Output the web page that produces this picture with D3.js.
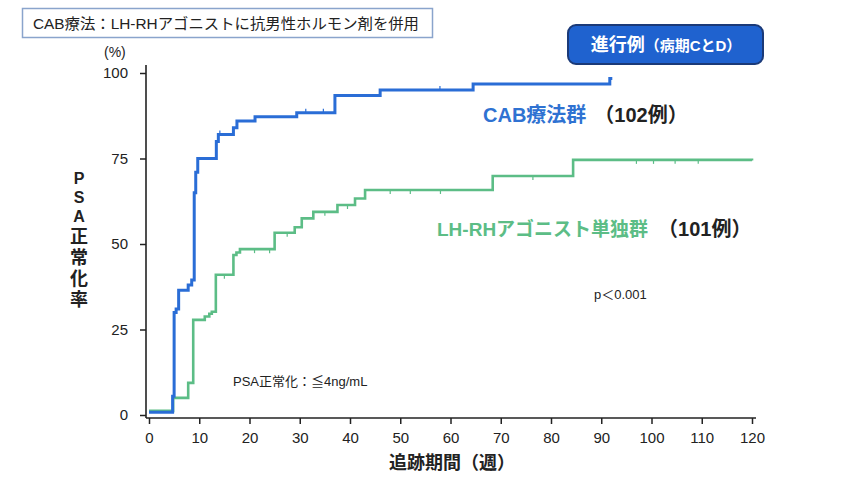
<!DOCTYPE html>
<html><head><meta charset="utf-8">
<script src="https://cdn.jsdelivr.net/npm/d3@7"></script>
<style>
html,body{margin:0;padding:0;background:#fff;}
svg{display:block;}
text{font-family:"Liberation Sans","Noto Sans CJK JP",sans-serif;}
</style></head>
<body>
<svg id="c" width="843" height="478"></svg>
<script>
// ---- data ----
const xTicks = [0,10,20,30,40,50,60,70,80,90,100,110,120];
const yTicks = [0,25,50,75,100];
const cabWeeks  = [0,4.7,5.0,5.4,5.9,7.8,8.5,9.0,9.3,9.7,13.4,13.8,16.8,17.5,21.1,29.4,37.0,46.0,64.5,91.7,92.2];
const cabPct    = [0.8,5.5,30,31,36.5,38,39.5,65,71,75,80,82,84,86,87.2,88.4,93.4,95,96.8,98.4,98.4];
const cabCensor = [14.1,31.2,34.7,57.9];
const lhWeeks   = [0,4.8,7.8,8.8,11.1,12.0,12.5,13.3,16.8,17.4,18.1,25.0,29.0,30.4,32.7,37.5,41.0,43.0,68.4,84.4,120];
const lhPct     = [1.2,5,9.4,27.8,28.8,29.6,30.2,41,46.8,47.5,48.5,53.3,54.9,57.5,59.4,61.4,63.3,65.8,69.9,74.6,74.4];
const lhCensor  = [15.0,21.0,24.0,27.5,35.0,39.5,48.0,52.0,58.0,76.4,97.0,100.4,104.7,109.3];

const svg = d3.select("#c");
const x = d3.scaleLinear().domain([0,120]).range([149,752]);
const y = d3.scaleLinear().domain([0,100]).range([415,73]);

// title box
svg.append("rect").attr("x",22.5).attr("y",8.5).attr("width",410).attr("height",29)
  .attr("fill","#fff").attr("stroke","#8aa4cc").attr("stroke-width",1.5);
svg.append("text").attr("x",33).attr("y",29).style("font-size","15px").attr("fill","#222")
  .attr("textLength",386).attr("lengthAdjust","spacingAndGlyphs")
  .text("CAB療法：LH-RHアゴニストに抗男性ホルモン剤を併用");

// button
svg.append("rect").attr("x",568).attr("y",25).attr("width",195).attr("height",39).attr("rx",8)
  .attr("fill","#1f62cf").attr("stroke","#1b3a78").attr("stroke-width",2);
const bt = svg.append("text").attr("x",666).attr("y",51).attr("text-anchor","middle").attr("fill","#fff").attr("font-weight","bold");
bt.append("tspan").style("font-size","18px").text("進行例");
bt.append("tspan").style("font-size","15px").text("（病期CとD）");

// axes
const gx = svg.append("g").attr("transform","translate(0,418)")
  .call(d3.axisBottom(x).tickValues(xTicks).tickSize(6).tickPadding(8));
const gy = svg.append("g").attr("transform","translate(146,0)")
  .call(d3.axisLeft(y).tickValues(yTicks).tickSize(6).tickPadding(12));
[gx,gy].forEach(g=>{
  g.attr("font-size",null).attr("font-family",null);
  g.select(".domain").remove();
  g.selectAll(".tick line").attr("stroke","#222").attr("stroke-width",1.5);
  g.selectAll(".tick text").attr("fill","#222")
   .style("font-size","15px").style("font-family",'"Liberation Sans",sans-serif');
});
svg.append("line").attr("x1",146).attr("x2",146).attr("y1",65).attr("y2",418).attr("stroke","#222").attr("stroke-width",1.6);
svg.append("line").attr("x1",146).attr("x2",756).attr("y1",418).attr("y2",418).attr("stroke","#222").attr("stroke-width",1.6);

svg.append("text").attr("x",104).attr("y",57).style("font-size","14px").attr("fill","#222").text("(%)");

// y label stacked
const yl = ["P","S","A","正","常","化","率"];
const ylY = [184,203,222,243,264,285,306];
const ylS = [16,16,16,18,18,18,18];
yl.forEach((c,i)=>svg.append("text").attr("x",79).attr("y",ylY[i]).attr("text-anchor","middle")
  .style("font-size",ylS[i]+"px").attr("font-weight","bold").attr("fill","#222").text(c));

// x label
svg.append("text").attr("x",452).attr("y",469).attr("text-anchor","middle").style("font-size","18px")
  .attr("font-weight","bold").attr("fill","#222").text("追跡期間（週）");

// curves
const line = d3.line().x(d=>x(d[0])).y(d=>y(d[1])).curve(d3.curveStepAfter);
const lhData = lhWeeks.map((w,i)=>[w,lhPct[i]]);
const cabData = cabWeeks.map((w,i)=>[w,cabPct[i]]);
const green = "#5cbd86", blue = "#2a6dd6";
svg.append("path").attr("d",line(lhData)).attr("fill","none").attr("stroke",green).attr("stroke-width",2.6);
svg.append("path").attr("d",line(cabData)).attr("fill","none").attr("stroke",blue).attr("stroke-width",3);
function stepVal(ws,ps,t){let v=ps[0];for(let i=0;i<ws.length;i++){if(ws[i]<=t)v=ps[i];}return v;}
lhCensor.forEach(t=>{const v=stepVal(lhWeeks,lhPct,t);
  svg.append("line").attr("x1",x(t)).attr("x2",x(t)).attr("y1",y(v)).attr("y2",y(v)+4).attr("stroke",green).attr("stroke-width",1.2);});
cabCensor.forEach(t=>{const v=stepVal(cabWeeks,cabPct,t);
  svg.append("line").attr("x1",x(t)).attr("x2",x(t)).attr("y1",y(v)).attr("y2",y(v)-4).attr("stroke",blue).attr("stroke-width",1.2);});

// annotations
const a1 = svg.append("text").attr("x",483).attr("y",122).attr("font-weight","bold");
a1.append("tspan").attr("fill","#2f72d2").style("font-size","20px").text("CAB療法群");
a1.append("tspan").attr("fill","#222").attr("dx",8).style("font-size","20px").text("（102例）");
const a2 = svg.append("text").attr("x",437).attr("y",236).attr("font-weight","bold");
a2.append("tspan").attr("fill","#5cbd86").style("font-size","19px").text("LH-RHアゴニスト単独群");
a2.append("tspan").attr("fill","#222").attr("dx",10).style("font-size","20px").text("（101例）");
svg.append("text").attr("x",594).attr("y",299).style("font-size","13px").attr("fill","#222").text("p＜0.001");
svg.append("text").attr("x",233).attr("y",386).style("font-size","13px").attr("fill","#222").text("PSA正常化：≦4ng/mL");
</script>
</body></html>
